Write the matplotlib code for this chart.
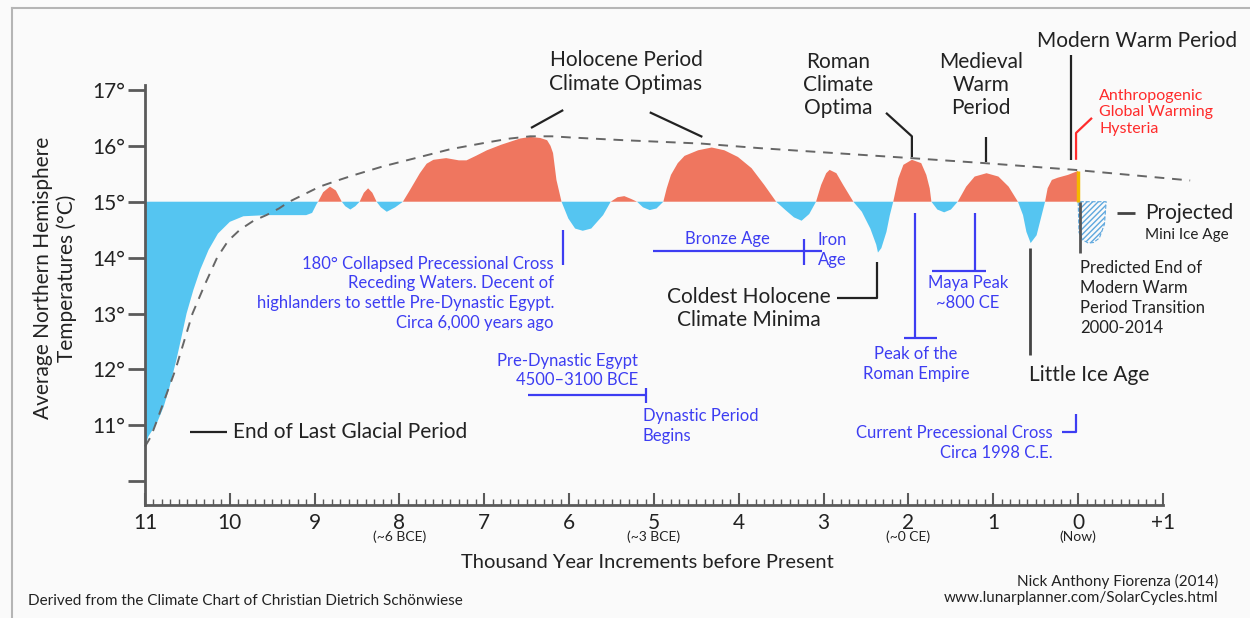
import matplotlib
matplotlib.use("Agg")
import matplotlib.pyplot as plt
from matplotlib.ticker import MultipleLocator, FixedLocator

plt.rcParams['font.family'] = ['Lato', 'DejaVu Sans']
plt.rcParams['hatch.linewidth'] = 1.0

# temperature curve, thousand years before present -> deg C
temp_x = [11.0, 10.96, 10.86, 10.78, 10.71, 10.63, 10.57, 10.51, 10.43, 10.35,
          10.25, 10.14, 10.0, 9.84, 9.57, 9.3, 9.1, 9.03, 8.98, 8.96,
          8.90, 8.82, 8.75, 8.68, 8.64, 8.58, 8.52, 8.47, 8.42, 8.37,
          8.32, 8.27, 8.22, 8.15, 8.05, 7.96, 7.88, 7.76, 7.68, 7.60,
          7.45, 7.3, 7.21, 7.10, 6.97, 6.80, 6.58, 6.46, 6.34, 6.26,
          6.22, 6.19, 6.15, 6.09, 6.01, 5.93, 5.84, 5.74, 5.60, 5.51,
          5.43, 5.35, 5.27, 5.2, 5.13, 5.05, 4.97, 4.89, 4.85, 4.80,
          4.72, 4.64, 4.48, 4.32, 4.17, 4.01, 3.85, 3.70, 3.56, 3.45,
          3.35, 3.26, 3.17, 3.09, 3.03, 2.97, 2.93, 2.85, 2.77, 2.65,
          2.55, 2.45, 2.38, 2.36, 2.32, 2.26, 2.22, 2.18, 2.12, 2.06,
          1.96, 1.85, 1.79, 1.75, 1.73, 1.66, 1.58, 1.50, 1.42, 1.32,
          1.22, 1.08, 0.94, 0.82, 0.71, 0.65, 0.61, 0.56, 0.49, 0.43,
          0.39, 0.36, 0.31, 0.24, 0.12, 0.02, 0.0]
temp_y = [10.62, 10.80, 11.04, 11.33, 11.69, 12.17, 12.58, 13.0, 13.42, 13.78,
          14.14, 14.43, 14.64, 14.74, 14.76, 14.76, 14.76, 14.8, 14.95, 15.0,
          15.17, 15.27, 15.2, 15.0, 14.92, 14.86, 14.92, 15.0, 15.16, 15.24,
          15.16, 15.0, 14.9, 14.82, 14.9, 15.0, 15.2, 15.51, 15.68, 15.75,
          15.78, 15.74, 15.74, 15.82, 15.92, 16.02, 16.13, 16.16, 16.14, 16.10,
          16.0, 15.87, 15.39, 15.0, 14.70, 14.52, 14.48, 14.52, 14.76, 15.0,
          15.08, 15.10, 15.05, 15.0, 14.9, 14.85, 14.88, 15.0, 15.24, 15.48,
          15.69, 15.82, 15.92, 15.97, 15.92, 15.80, 15.60, 15.30, 15.0, 14.85,
          14.72, 14.66, 14.78, 15.0, 15.30, 15.51, 15.57, 15.51, 15.30, 15.0,
          14.82, 14.52, 14.23, 14.09, 14.17, 14.46, 14.76, 15.0, 15.42, 15.66,
          15.75, 15.69, 15.48, 15.24, 15.0, 14.86, 14.81, 14.86, 15.0, 15.27,
          15.45, 15.51, 15.45, 15.27, 15.0, 14.76, 14.46, 14.26, 14.40, 14.76,
          15.0, 15.24, 15.39, 15.43, 15.48, 15.54, 15.55]

# dashed long-term trend
trend_x = [11.0, 10.93, 10.88, 10.76, 10.64, 10.54, 10.44, 10.30, 10.15, 10.02,
           9.88, 9.72, 9.57, 9.42, 9.3, 9.1, 8.94, 8.75, 8.55, 8.2,
           7.76, 7.4, 6.97, 6.7, 6.46, 6.2, 5.99, 5.35, 4.44, 3.77,
           1.97, 1.10, 0.04, -1.32]
trend_y = [10.62, 10.8, 11.0, 11.5, 12.0, 12.5, 13.0, 13.5, 14.0, 14.3,
           14.5, 14.66, 14.76, 14.88, 15.0, 15.15, 15.27, 15.37, 15.47, 15.63,
           15.8, 15.94, 16.06, 16.13, 16.17, 16.17, 16.15, 16.10, 16.04, 15.96,
           15.78, 15.69, 15.57, 15.38]

# projected mini ice age
proj_x = [0.0, -0.01, -0.05, -0.12, -0.18, -0.25, -0.31, -0.33]
proj_y = [15.0, 14.45, 14.32, 14.26, 14.27, 14.35, 14.6, 15.0]

baseline = 15.0
x_ticks = [11, 10, 9, 8, 7, 6, 5, 4, 3, 2, 1, 0, -1]
x_labels = ['11', '10', '9', '8', '7', '6', '5', '4', '3', '2', '1', '0', '+1']
x_sub = {8: '(~6 BCE)', 5: '(~3 BCE)', 2: '(~0 CE)', 0: '(Now)'}
y_ticks = [10, 11, 12, 13, 14, 15, 16, 17]
y_labels = ['', '11°', '12°', '13°', '14°', '15°', '16°', '17°']

RED = '#ef765f'
BLUE = '#55c5f1'
INK = '#222222'
NOTE = '#3d3df2'
AXC = '#5a5a5a'

fig = plt.figure(figsize=(12.5, 6.18), dpi=100)
fig.patch.set_facecolor('#fafafa')
ax = fig.add_axes([0.116, 0.18285, 0.8144, 0.6796])
ax.set_facecolor('none')
ax.set_xlim(11, -1)
ax.set_ylim(9.574, 17.088)

ax.fill_between(temp_x, temp_y, baseline, where=[v >= baseline for v in temp_y],
                interpolate=True, color=RED, lw=0)
ax.fill_between(temp_x, temp_y, baseline, where=[v <= baseline for v in temp_y],
                interpolate=True, color=BLUE, lw=0)
ax.plot([0, 0], [baseline, temp_y[-1]], color='#f5b800', lw=2.5, solid_capstyle='butt')
ax.fill_between(proj_x, proj_y, baseline, facecolor='none', edgecolor='#5fa8de',
                hatch='//////', lw=0.8, linestyle='--')
ax.plot(trend_x, trend_y, color='#666666', lw=1.4, dashes=(5, 4), clip_on=False)

for s in ['top', 'right']:
    ax.spines[s].set_visible(False)
for s in ['left', 'bottom']:
    ax.spines[s].set_color(AXC)
    ax.spines[s].set_linewidth(2)

ax.xaxis.set_major_locator(FixedLocator(x_ticks))
ax.set_xticklabels(x_labels)
ax.xaxis.set_minor_locator(MultipleLocator(0.1))
ax.tick_params(axis='x', which='major', direction='in', length=9, width=1.5,
               color=AXC, labelsize=15, labelcolor=INK, pad=6)
ax.tick_params(axis='x', which='minor', direction='in', length=4, width=1, color=AXC)
ax.set_yticks(y_ticks)
ax.set_yticklabels(y_labels)
ax.tick_params(axis='y', direction='out', length=12, width=2, color=AXC,
               labelsize=15, labelcolor=INK, pad=2)

for xv, lab in x_sub.items():
    ax.text(xv, 9.0, lab, ha='center', va='center', fontsize=10, color=INK, clip_on=False)

fig.text(0.518, 0.089, 'Thousand Year Increments before Present', ha='center',
         va='center', fontsize=14.5, color=INK)
fig.text(0.044, 0.55, 'Average Northern Hemisphere\nTemperatures (°C)', ha='center',
         va='center', rotation=90, fontsize=15, color=INK, linespacing=1.15)
fig.text(0.0224, 0.0275, 'Derived from the Climate Chart of Christian Dietrich Schönwiese',
         ha='left', va='center', fontsize=11, color=INK)
fig.text(0.9744, 0.0599, 'Nick Anthony Fiorenza (2014)', ha='right', va='center',
         fontsize=11, color=INK)
fig.text(0.9744, 0.0324, 'www.lunarplanner.com/SolarCycles.html', ha='right',
         va='center', fontsize=11, color=INK)

def seg(xs, ys, color, lw=1.6):
    ax.plot(xs, ys, color=color, lw=lw, clip_on=False, solid_capstyle='butt')

def note(x, y, s, color=INK, size=15, ha='center', ls=1.25):
    ax.text(x, y, s, color=color, fontsize=size, ha=ha, va='center',
            linespacing=ls, clip_on=False)

# black annotations
note(-0.69, 17.87, 'Modern Warm Period')
seg([0.08, 0.08], [17.62, 15.75], INK)
note(5.33, 17.32, 'Holocene Period\nClimate Optimas', ls=1.2)
seg([6.07, 6.45], [16.64, 16.32], INK)
seg([5.05, 4.43], [16.60, 16.16], INK)
note(2.83, 17.09, 'Roman\nClimate\nOptima', ls=1.2)
seg([2.265, 1.96, 1.96], [16.59, 16.17, 15.80], INK)
note(1.145, 17.09, 'Medieval\nWarm\nPeriod', ls=1.2)
seg([1.09, 1.09], [16.16, 15.71], INK)
note(3.88, 13.09, 'Coldest Holocene\nClimate Minima', ls=1.2)
seg([2.84, 2.37, 2.37], [13.28, 13.28, 13.92], INK)
note(9.96, 10.88, 'End of Last Glacial Period', ha='left')
seg([10.47, 10.03], [10.88, 10.88], INK)
note(0.58, 11.90, 'Little Ice Age', ha='left')
seg([0.57, 0.57], [14.17, 12.26], '#444444', lw=2)
note(-0.79, 14.80, 'Projected', ha='left')
note(-0.79, 14.40, 'Mini Ice Age', ha='left', size=11)
seg([-0.46, -0.67], [14.80, 14.80], '#444444', lw=2)
seg([-0.02, -0.02], [15.0, 14.08], '#555555', lw=2)
note(-0.02, 13.28, 'Predicted End of\nModern Warm\nPeriod Transition\n2000-2014',
     ha='left', size=12, ls=1.3)

# red annotation
note(-0.25, 16.60, 'Anthropogenic\nGlobal Warming\nHysteria', color='#ff2b2b',
     ha='left', size=11.5, ls=1.25)
seg([0.025, 0.025, -0.163], [15.75, 16.23, 16.50], '#ff2b2b')

# blue annotations
note(6.18, 13.36, '180° Collapsed Precessional Cross\nReceding Waters. Decent of\n'
     'highlanders to settle Pre-Dynastic Egypt.\nCirca 6,000 years ago',
     color=NOTE, ha='right', size=12, ls=1.3)
seg([6.07, 6.07], [14.49, 13.87], NOTE)
note(5.19, 11.98, 'Pre-Dynastic Egypt\n4500–3100 BCE', color=NOTE, ha='right', size=12, ls=1.3)
seg([6.49, 5.10], [11.54, 11.54], NOTE)
seg([5.10, 5.10], [11.67, 11.40], NOTE)
note(5.13, 10.99, 'Dynastic Period\nBegins', color=NOTE, ha='left', size=12, ls=1.3)
note(4.13, 14.33, 'Bronze Age', color=NOTE, size=12)
seg([5.01, 3.02], [14.12, 14.12], NOTE)
seg([3.23, 3.23], [14.33, 13.87], NOTE)
note(3.07, 14.14, 'Iron\nAge', color=NOTE, ha='left', size=12, ls=1.3)
note(1.30, 13.37, 'Maya Peak\n~800 CE', color=NOTE, size=12, ls=1.3)
seg([1.215, 1.215], [14.80, 13.76], NOTE)
seg([1.72, 1.086], [13.76, 13.76], NOTE)
note(1.91, 12.10, 'Peak of the\nRoman Empire', color=NOTE, size=12, ls=1.3)
seg([1.92, 1.92], [14.80, 12.56], NOTE)
seg([2.05, 1.66], [12.56, 12.56], NOTE)
note(0.30, 10.69, 'Current Precessional Cross\nCirca 1998 C.E.', color=NOTE,
     ha='right', size=12, ls=1.3)
seg([0.19, 0.025, 0.025], [10.88, 10.88, 11.20], NOTE)

# frame of the original screenshot
fig.add_artist(plt.Line2D([12 / 1250, 1], [1 - 8 / 618, 1 - 8 / 618],
                          color='#b5b5b5', lw=1.5))
fig.add_artist(plt.Line2D([12 / 1250, 12 / 1250], [0, 1 - 8 / 618],
                          color='#b5b5b5', lw=1.5))

fig.savefig('out.png', dpi=100, facecolor=fig.get_facecolor())
